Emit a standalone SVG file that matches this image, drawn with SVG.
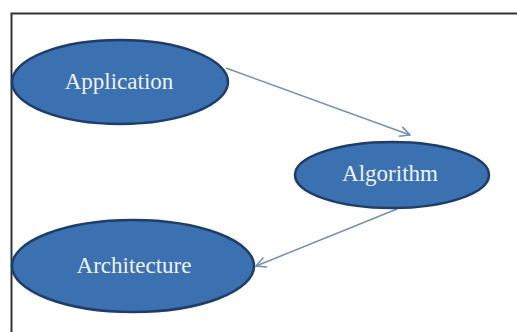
<svg xmlns="http://www.w3.org/2000/svg" width="517" height="332" viewBox="0 0 517 332">
<style>
.node ellipse{fill:#3b70b1;stroke:#1e3d68;stroke-width:2.5}
.node text{font-family:"Liberation Serif","Times New Roman",serif;font-size:23px;fill:#eef3fa;text-anchor:middle}
.edge{stroke:#7090b4;stroke-width:1.5;fill:none}
</style>
<defs>
<marker id="arr" viewBox="0 0 12 12" refX="11" refY="6" markerWidth="12" markerHeight="12" markerUnits="userSpaceOnUse" orient="auto">
<path d="M1,1 L11,6 L1,11" fill="none" stroke="#7090b4" stroke-width="1.5"/>
</marker>
</defs>
<rect width="517" height="332" fill="#ffffff"/>
<path d="M11.5,332 V13.5 H517" fill="none" stroke="#333333" stroke-width="2"/>
<g id="connectors">
<line class="edge" x1="226" y1="68" x2="410" y2="135" marker-end="url(#arr)"/>
<line class="edge" x1="397" y1="209" x2="256" y2="266" marker-end="url(#arr)"/>
</g>
<g id="application" class="node">
<ellipse cx="120" cy="82" rx="108" ry="42"/>
<text x="119" y="89">Application</text>
</g>
<g id="algorithm" class="node">
<ellipse cx="392" cy="175" rx="97" ry="33"/>
<text x="390" y="181">Algorithm</text>
</g>
<g id="architecture" class="node">
<ellipse cx="133" cy="266" rx="121" ry="46"/>
<text x="134" y="273">Architecture</text>
</g>
</svg>
